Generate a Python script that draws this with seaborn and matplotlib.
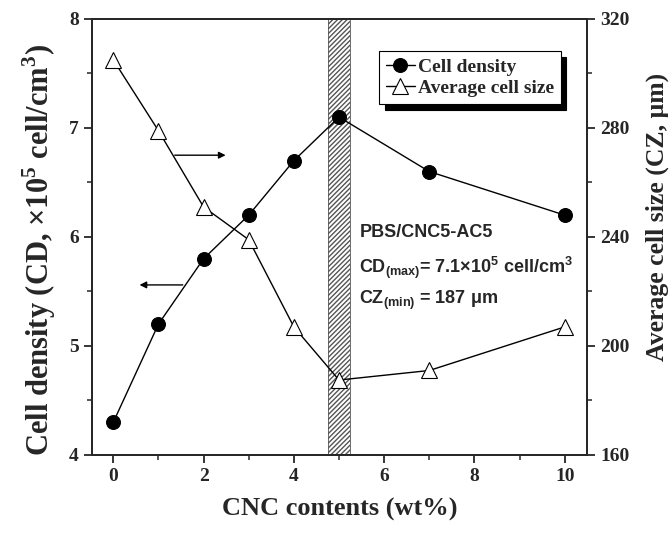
import numpy as np
import pandas as pd
import seaborn as sns
import matplotlib
matplotlib.use("Agg")
import matplotlib.pyplot as plt
from matplotlib.ticker import MultipleLocator

# data
cnc_content = [0, 1, 2, 3, 4, 5, 7, 10]
cell_density = [4.3, 5.2, 5.8, 6.2, 6.7, 7.1, 6.6, 6.2]
cell_size = [305, 279, 251, 239, 207, 187.5, 191, 207]

sns.set_style("ticks")
plt.rcParams['font.family'] = ['Liberation Serif', 'DejaVu Serif']
plt.rcParams['mathtext.fontset'] = 'custom'
plt.rcParams['mathtext.rm'] = 'Liberation Serif:bold'
plt.rcParams['mathtext.bf'] = 'Liberation Serif:bold'

df = pd.DataFrame({'cnc': cnc_content, 'cd': cell_density, 'cz': cell_size})

fig = plt.figure(figsize=(6.72, 5.41), dpi=100)
ax = fig.add_axes([0.137, 0.159, 0.737, 0.806])
ax2 = ax.twinx()

sns.lineplot(data=df, x='cnc', y='cd', ax=ax, color='black', lw=1,
             marker='o', markersize=10, markerfacecolor='black',
             markeredgecolor='black', label='Cell density', legend=False)
sns.lineplot(data=df, x='cnc', y='cz', ax=ax2, color='black', lw=1,
             marker='^', markersize=11, markerfacecolor='white',
             markeredgecolor='black', markeredgewidth=0.8,
             label='Average cell size', legend=False)

# hatched band at the optimum
ax.axvspan(4.75, 5.25, facecolor='none', edgecolor='#555555', hatch='///////',
           lw=0, zorder=0)
ax.axvline(4.75, color='#555555', lw=0.6, zorder=0)
ax.axvline(5.25, color='#555555', lw=0.6, zorder=0)

ax.set_xlim(-0.47, 10.5)
ax.set_ylim(4, 8)
ax2.set_ylim(160, 320)

ax.xaxis.set_major_locator(MultipleLocator(2))
ax.xaxis.set_minor_locator(MultipleLocator(1))
ax.yaxis.set_major_locator(MultipleLocator(1))
ax.yaxis.set_minor_locator(MultipleLocator(0.5))
ax2.yaxis.set_major_locator(MultipleLocator(40))
ax2.yaxis.set_minor_locator(MultipleLocator(20))

for a in (ax, ax2):
    a.tick_params(which='major', direction='out', length=6, width=1.3,
                  labelsize=14)
    a.tick_params(which='minor', direction='out', length=3.5, width=1.1)
    for s in a.spines.values():
        s.set_linewidth(1.3)
    for lab in a.get_xticklabels() + a.get_yticklabels():
        lab.set_fontweight('bold')
ax.tick_params(axis='x', top=False)

ax.set_xlabel('CNC contents (wt%)', fontsize=19, fontweight='bold', labelpad=9)
ax.set_ylabel(r'Cell density (CD, $\times$10$^5$ cell/cm$^3$)', fontsize=22,
              fontweight='bold')
ax.yaxis.set_label_coords(-0.068, 0.47)
ax2.set_ylabel('Average cell size (CZ, μm)', fontsize=18.5, fontweight='bold')
ax2.yaxis.set_label_coords(1.117, 0.545)

# arrows pointing at the matching axes
ax.annotate('', xy=(2.55, 6.75), xytext=(1.3, 6.75),
            arrowprops=dict(arrowstyle='-|>', color='black', lw=1,
                            mutation_scale=10))
ax.annotate('', xy=(0.52, 5.56), xytext=(1.6, 5.56),
            arrowprops=dict(arrowstyle='-|>', color='black', lw=1,
                            mutation_scale=10))

# sample annotation
sans = ['Liberation Sans', 'DejaVu Sans']
ax.text(5.45, 6.04, 'PBS/CNC5-AC5', fontsize=13, fontweight='bold',
        family=sans, va='center')
ax.text(5.45, 5.72, r'CD$_{\mathregular{(max)}}$= 7.1×10$^{\mathregular{5}}$ cell/cm$^{\mathregular{3}}$',
        fontsize=13, fontweight='bold', family=sans, va='center')
ax.text(5.45, 5.42, r'CZ$_{\mathregular{(min)}}$ = 187 μm', fontsize=13,
        fontweight='bold', family=sans, va='center')

h1, l1 = ax.get_legend_handles_labels()
h2, l2 = ax2.get_legend_handles_labels()
leg = ax2.legend(h1 + h2, l1 + l2, loc='upper right',
                 bbox_to_anchor=(0.966, 0.948), fancybox=False,
                 shadow={'color': 'black', 'alpha': 1, 'ox': 4, 'oy': -4},
                 framealpha=1,
                 edgecolor='black', handlelength=1.5, handletextpad=0.15,
                 borderpad=0.35, labelspacing=0.2,
                 prop={'family': 'Liberation Serif', 'weight': 'bold',
                       'size': 14})
leg.get_frame().set_linewidth(0.8)

fig.savefig('out.png', dpi=100)
